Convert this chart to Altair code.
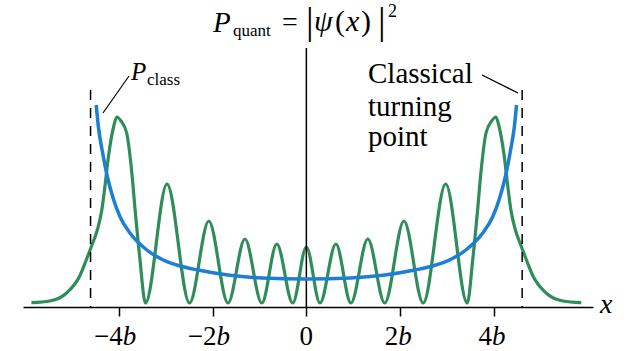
import altair as alt
import pandas as pd

# ---------------- data ----------------
# quantum probability density |psi(x)|^2 (arbitrary units), x in units of b
green_x = [-5.86, -5.47, -5.11, -4.82, -4.70, -4.57, -4.45, -4.36, -4.29, -4.22,
           -4.11, -4.04, -3.95, -3.83, -3.72, -3.65, -3.55, -3.43,
           -2.97, -2.49, -2.08, -1.67, -1.31, -0.95, -0.63, -0.29, 0.0,
           0.29, 0.63, 0.95, 1.31, 1.67, 2.08, 2.49, 2.97,
           3.43, 3.55, 3.65, 3.72, 3.83, 3.95, 4.04, 4.11, 4.22, 4.29,
           4.36, 4.45, 4.57, 4.70, 4.82, 5.11, 5.47, 5.86]
green_p = [0.003, 0.02, 0.10, 0.28, 0.42, 0.58, 0.74, 0.93, 1.18, 1.46,
           1.76, 1.86, 1.82, 1.70, 1.30, 0.93, 0.45, 0.0,
           1.19, 0.0, 0.82, 0.0, 0.64, 0.0, 0.59, 0.0, 0.56,
           0.0, 0.59, 0.0, 0.64, 0.0, 0.82, 0.0, 1.19,
           0.0, 0.45, 0.93, 1.30, 1.70, 1.82, 1.86, 1.76, 1.46, 1.18,
           0.93, 0.74, 0.58, 0.42, 0.28, 0.10, 0.02, 0.003]

# classical probability density
blue_x = [-4.48, -4.43, -4.35, -4.25, -4.12, -3.97, -3.76, -3.40, -3.05, -2.69,
          -2.31, -1.67, -0.94, 0.0, 0.94, 1.67, 2.31, 2.69, 3.05, 3.40,
          3.76, 3.97, 4.12, 4.25, 4.35, 4.43, 4.48]
blue_p = [1.98, 1.75, 1.52, 1.28, 1.05, 0.86, 0.70, 0.53, 0.43, 0.37,
          0.33, 0.28, 0.25, 0.24, 0.25, 0.28, 0.33, 0.37, 0.43, 0.53,
          0.70, 0.86, 1.05, 1.28, 1.52, 1.75, 1.98]

tick_values = [-4, -2, 0, 2, 4]
tick_numbers = ["\u22124", "\u22122", "0", "2", "4"]
turning_points = [-4.6, 4.6]

# ---------------- layout ----------------
LEFT, TOP, W, H = 23, 48, 570, 259
SERIF = "Liberation Serif"


def px(v):
    return v - LEFT


def py(v):
    return v - TOP


xs = alt.Scale(domain=[-6.04, 6.11], nice=False, zero=False)
ys = alt.Scale(domain=[-0.04, 2.55], nice=False, zero=False)
xaxis = alt.Axis(values=tick_values, labels=False, tickSize=9, tickWidth=1.5,
                 domainWidth=1.5, domainColor="black", tickColor="black",
                 grid=False, title=None)

green_df = pd.DataFrame({"x": green_x, "p": green_p})
blue_df = pd.DataFrame({"x": blue_x, "p": blue_p})
tick_df = pd.DataFrame({"x": tick_values, "num": tick_numbers})
turn_df = pd.DataFrame({"x": turning_points})

green = alt.Chart(green_df).mark_line(
    color="#2f8d5a", strokeWidth=3.2, interpolate="monotone"
).encode(x=alt.X("x:Q", scale=xs, axis=xaxis), y=alt.Y("p:Q", scale=ys, axis=None))

blue = alt.Chart(blue_df).mark_line(
    color="#1c7fd4", strokeWidth=3.5, interpolate="monotone"
).encode(x=alt.X("x:Q", scale=xs, axis=xaxis), y=alt.Y("p:Q", scale=ys, axis=None))

vline = alt.Chart(pd.DataFrame({"x": [0.0]})).mark_rule(
    color="black", strokeWidth=1.5
).encode(x=alt.X("x:Q", scale=xs, axis=xaxis))

dashed = alt.Chart(turn_df).mark_rule(
    color="black", strokeWidth=1.5, strokeDash=[10, 8]
).encode(x=alt.X("x:Q", scale=xs, axis=xaxis), y=alt.value(py(90)), y2=alt.value(py(307)))

# tick labels: number upright + italic b
lab_y = alt.value(py(345))


def tick_text(filter_expr, field, dx, align, italic):
    return alt.Chart(tick_df).transform_filter(filter_expr).mark_text(
        font=SERIF, fontSize=27, baseline="alphabetic", align=align, dx=dx,
        fontStyle="italic" if italic else "normal", color="black"
    ).encode(x=alt.X("x:Q", scale=xs, axis=xaxis), y=lab_y, text=field)


neg_num = tick_text("datum.x < 0", "num:N", 4, "right", False)
neg_b = tick_text("datum.x < 0", alt.value("b"), 4, "left", True)
pos_num = tick_text("datum.x > 0", "num:N", -2, "right", False)
pos_b = tick_text("datum.x > 0", alt.value("b"), -2, "left", True)
zero_num = tick_text("datum.x == 0", "num:N", 0, "center", False)

# annotation texts (pixel placed)
pieces = [
    (213, 32, "P", 29, True),
    (233, 36, "quant", 17, False),
    (282, 31, "=", 28, False),
    (306, 34, "|", 38, False),
    (314, 31, "\u03c8", 30, True),
    (335, 31, "(", 30, False),
    (346, 31, "x", 30, True),
    (361, 31, ")", 30, False),
    (378, 34, "|", 38, False),
    (388, 17, "2", 18, False),
    (131, 80, "P", 25, True),
    (147, 85, "class", 17, False),
    (368, 83, "Classical", 29, False),
    (368, 116, "turning", 29, False),
    (368, 146, "point", 29, False),
    (600, 313, "x", 28, True),
]

texts = []
for (tx, ty, s, size, it) in pieces:
    texts.append(
        alt.Chart(pd.DataFrame({"t": [s]})).mark_text(
            font=SERIF, fontSize=size, align="left", baseline="alphabetic",
            fontStyle="italic" if it else "normal", color="black"
        ).encode(x=alt.value(px(tx)), y=alt.value(py(ty)), text="t:N")
    )

leaders = []
for (x1, y1, x2, y2) in [(129, 76, 103, 113), (482, 75, 518, 93)]:
    leaders.append(
        alt.Chart(pd.DataFrame({"a": [0]})).mark_rule(color="black", strokeWidth=1.2).encode(
            x=alt.value(px(x1)), y=alt.value(py(y1)), x2=alt.value(px(x2)), y2=alt.value(py(y2))
        )
    )

chart = alt.layer(
    green, vline, dashed, blue, neg_num, neg_b, pos_num, pos_b, zero_num, *texts, *leaders
).properties(
    width=W, height=H,
    autosize=alt.AutoSizeParams(type="none"),
    padding={"left": LEFT, "top": TOP, "right": 629 - LEFT - W, "bottom": 351 - TOP - H},
    background="white",
).configure_view(stroke=None)

chart.save("out.html", embed_options={"renderer": "svg", "actions": False})
